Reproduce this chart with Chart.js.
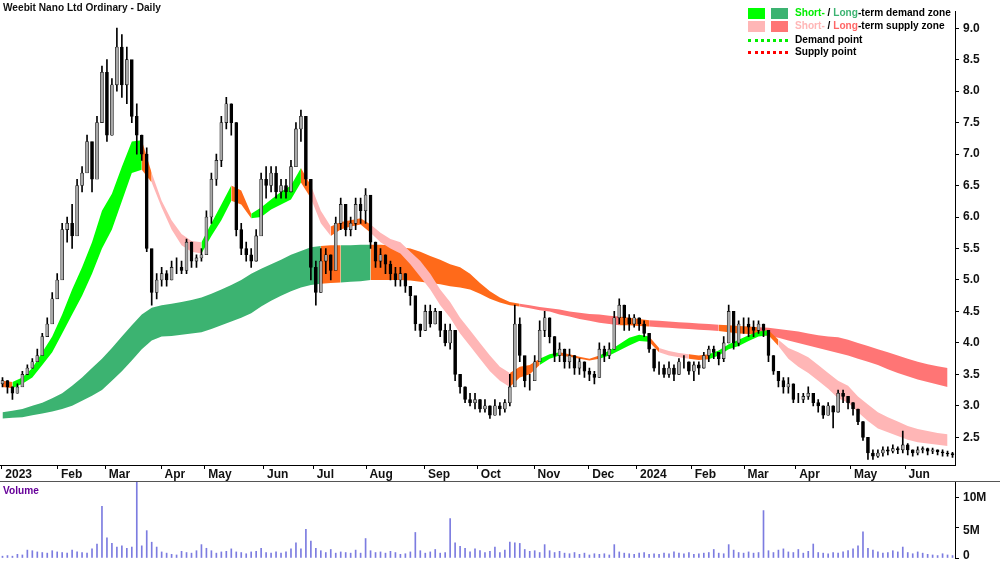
<!DOCTYPE html>
<html><head><meta charset="utf-8">
<script src="https://cdn.jsdelivr.net/npm/chart.js@4.4.1/dist/chart.umd.min.js"></script>
<style>
body{margin:0;width:1000px;height:562px;overflow:hidden;background:#fff;font-family:Arial,"Liberation Sans",sans-serif;}
#c1{position:absolute;left:0;top:0;}
#c2{position:absolute;left:0;top:482px;}
.t{position:absolute;font-weight:bold;font-size:11.5px;white-space:nowrap;transform:scaleX(0.88);transform-origin:0 0;}
.sq{position:absolute;width:17px;height:11px;}
.dl{position:absolute;width:40px;height:0;border-top:3px dotted;}
.vl{position:absolute;left:963px;font-weight:bold;font-size:12px;color:#111;line-height:12px;}
#sep{position:absolute;left:0;top:481px;width:1000px;height:1px;background:#555;}
</style></head><body>
<canvas id="c1" width="1000" height="482"></canvas>
<canvas id="c2" width="1000" height="80"></canvas>
<div id="sep"></div>
<div class="t" style="left:3px;top:1px;color:#111">Weebit Nano Ltd Ordinary - Daily</div>
<div class="t" style="left:3px;top:484px;color:#660099">Volume</div>
<div class="vl" style="top:491px">10M</div>
<div class="vl" style="top:524px">5M</div>
<div class="vl" style="top:549px">0</div>
<div class="sq" style="left:748px;top:8px;background:#00ff00"></div>
<div class="sq" style="left:771px;top:8px;background:#3cb371"></div>
<div class="t" style="left:795px;top:6px"><span style="color:#00ee00">Short-</span> / <span style="color:#3cb371">Long</span>-term demand zone</div>
<div class="sq" style="left:748px;top:21px;background:#ffb6b6"></div>
<div class="sq" style="left:771px;top:21px;background:#ff7575"></div>
<div class="t" style="left:795px;top:19px"><span style="color:#ffb6b6">Short-</span> / <span style="color:#ff6666">Long</span>-term supply zone</div>
<div class="dl" style="left:748px;top:39px;border-color:#00ee00"></div>
<div class="t" style="left:795px;top:33px">Demand point</div>
<div class="dl" style="left:748px;top:51px;border-color:#ff0000"></div>
<div class="t" style="left:795px;top:45px">Supply point</div>
<script>
const monthLabels=["2023","Feb","Mar","Apr","May","Jun","Jul","Aug","Sep","Oct","Nov","Dec","2024","Feb","Mar","Apr","May","Jun"];
const monthPos=[-0.1,11.1,20.7,31.9,40.7,52.5,62.5,73.1,84.9,95.5,106.9,117.9,127.5,138.5,149.1,159.5,170.5,181.5];
const priceTicks=[2.5,3.0,3.5,4.0,4.5,5.0,5.5,6.0,6.5,7.0,7.5,8.0,8.5,9.0];
const firstOpen=3.35;
const close=[3.4,3.3,3.2,3.3,3.5,3.6,3.7,3.8,4.1,4.3,4.7,5.0,5.8,5.9,5.7,6.5,6.7,7.2,6.6,7.5,
8.3,7.3,8.1,8.7,8.1,8.5,7.6,7.3,7.0,5.5,4.8,5.0,5.1,5.0,5.2,5.2,5.15,5.6,5.3,5.35,
5.4,6.0,6.6,6.9,7.5,7.8,7.5,5.8,5.5,5.4,5.3,5.7,6.6,6.5,6.7,6.4,6.5,6.4,6.8,7.4,
7.6,6.6,5.2,4.8,5.3,5.4,5.15,5.9,6.2,5.8,5.9,6.2,6.1,6.35,5.6,5.3,5.4,5.25,5.1,5.0,
5.1,4.9,4.75,4.3,4.2,4.5,4.3,4.5,4.2,4.0,4.2,3.5,3.3,3.1,3.05,3.1,2.95,3.0,2.85,3.0,
2.95,3.05,3.3,4.3,3.8,3.4,3.4,3.7,4.2,4.4,4.1,3.8,3.9,3.7,3.8,3.6,3.7,3.55,3.5,3.45,
3.9,3.8,3.9,4.4,4.6,4.4,4.3,4.4,4.3,4.15,3.9,3.6,3.6,3.5,3.6,3.5,3.7,3.7,3.55,3.65,
3.6,3.8,3.9,3.85,3.75,4.0,4.5,4.0,4.3,4.3,4.25,4.2,4.3,4.2,3.8,3.55,3.4,3.3,3.35,3.1,
3.1,3.15,3.2,3.05,3.0,2.85,3.0,2.9,3.2,3.15,3.05,2.95,2.75,2.5,2.25,2.2,2.25,2.3,2.28,2.32,
2.3,2.38,2.3,2.25,2.3,2.32,2.28,2.3,2.27,2.25,2.24,2.22];
const high=[3.45,3.4,3.3,3.35,3.55,3.65,3.75,3.9,4.15,4.4,4.8,5.1,5.9,6.0,6.2,6.6,6.8,7.3,7.0,7.6,
8.4,8.5,8.2,9.0,8.9,8.7,8.2,7.8,7.3,7.1,5.2,5.1,5.2,5.15,5.3,5.35,5.3,5.65,5.6,5.4,
5.5,6.1,6.7,7.0,7.6,7.9,7.8,7.5,5.9,5.6,5.5,5.8,6.7,6.8,6.8,6.8,6.6,6.6,6.9,7.5,
7.7,7.6,6.6,5.3,5.5,5.5,5.4,6.0,6.3,6.2,6.0,6.3,6.3,6.45,6.3,5.6,5.5,5.4,5.3,5.2,
5.2,5.1,4.9,4.7,4.3,4.6,4.6,4.55,4.5,4.3,4.3,4.2,3.5,3.3,3.2,3.2,3.1,3.1,3.0,3.1,
3.05,3.1,3.5,4.6,4.4,3.7,3.5,3.8,4.35,4.5,4.4,4.1,4.0,3.9,3.9,3.8,3.75,3.7,3.6,3.55,
4.0,3.95,4.0,4.5,4.7,4.6,4.45,4.45,4.4,4.35,4.15,3.9,3.7,3.65,3.7,3.65,3.75,3.8,3.7,3.7,
3.7,3.85,3.95,3.95,3.85,4.1,4.6,4.5,4.35,4.4,4.4,4.35,4.35,4.3,4.2,3.8,3.55,3.45,3.45,3.35,
3.2,3.2,3.3,3.2,3.1,3.0,3.05,3.0,3.25,3.25,3.15,3.05,2.95,2.75,2.5,2.3,2.3,2.35,2.35,2.38,
2.35,2.6,2.4,2.3,2.35,2.35,2.33,2.33,2.3,2.3,2.28,2.26];
const low=[3.3,3.2,3.1,3.2,3.4,3.5,3.6,3.7,3.95,4.2,4.5,4.8,5.3,5.6,5.5,6.1,6.4,6.8,6.4,6.9,
7.8,7.2,7.3,8.0,7.9,7.8,7.5,7.0,6.9,5.45,4.6,4.7,4.9,4.9,5.0,5.1,5.1,5.1,5.2,5.2,
5.3,5.4,5.9,6.5,6.8,7.4,7.3,5.7,5.4,5.3,5.2,5.3,5.9,6.3,6.4,6.3,6.3,6.3,6.4,6.8,
7.2,6.5,5.0,4.6,4.8,5.1,5.0,5.2,5.8,5.7,5.7,5.8,5.9,5.9,5.5,5.2,5.2,5.1,5.0,4.9,
4.9,4.8,4.6,4.2,4.1,4.2,4.25,4.3,4.1,3.95,3.9,3.4,3.2,3.05,3.0,2.95,2.9,2.9,2.8,2.85,
2.85,2.9,3.0,3.6,3.7,3.3,3.25,3.4,3.7,4.1,4.0,3.7,3.7,3.6,3.6,3.5,3.5,3.45,3.4,3.35,
3.45,3.7,3.75,3.9,4.3,4.2,4.2,4.25,4.2,4.1,3.85,3.55,3.5,3.45,3.45,3.4,3.5,3.6,3.5,3.4,
3.5,3.6,3.7,3.75,3.65,3.7,4.0,3.9,3.95,4.15,4.1,4.1,4.15,4.1,3.7,3.5,3.3,3.2,3.2,3.05,
3.05,3.05,3.1,3.0,2.9,2.8,2.85,2.65,2.9,3.05,2.95,2.85,2.7,2.45,2.15,2.15,2.18,2.2,2.22,2.25,
2.24,2.25,2.22,2.2,2.22,2.25,2.22,2.24,2.22,2.2,2.2,2.18];
const volume=[0.3,0.4,0.3,0.6,0.5,1.3,1.2,1.0,0.9,0.8,1.2,1.0,0.9,0.8,1.3,1.0,0.9,0.8,1.5,2.3,
8.5,3.3,2.4,1.8,2.0,1.6,1.8,12.5,2.0,4.5,2.6,1.8,1.0,0.8,0.6,0.5,1.1,0.9,0.8,1.2,
2.2,1.6,1.2,0.8,1.0,1.1,1.5,1.0,0.9,0.7,1.0,1.1,1.6,0.9,0.8,1.0,0.8,1.0,1.5,2.5,
1.5,4.7,2.8,1.6,1.2,0.9,1.4,0.8,1.0,0.9,0.8,1.3,0.8,3.2,1.2,0.9,1.0,0.8,1.1,0.9,
0.6,0.7,1.0,4.2,1.2,0.8,1.0,1.4,0.8,0.9,6.5,2.5,1.9,1.6,1.0,1.5,1.2,0.9,1.1,1.8,
0.9,1.3,2.6,2.5,2.4,1.4,1.1,1.2,0.9,2.2,1.2,0.9,1.1,0.8,0.7,0.9,0.6,0.8,0.5,0.7,
0.6,0.7,0.5,2.2,1.0,0.8,0.7,0.6,0.8,0.9,0.6,0.7,0.6,0.8,0.7,1.0,0.8,0.7,0.9,0.6,
0.7,0.8,0.9,1.4,0.8,0.7,2.2,1.3,0.9,0.8,1.0,0.8,0.9,7.8,1.2,0.9,1.3,1.5,1.0,0.9,
1.4,0.8,1.1,2.3,0.9,0.8,0.7,0.9,0.8,1.0,1.2,1.5,2.0,4.3,1.6,1.3,1.0,0.8,0.9,1.2,
1.0,1.8,0.9,0.7,1.0,0.8,0.6,0.5,0.4,0.7,0.5,0.4];
const shortUpper=[3.4,3.38,3.45,3.6,3.85,4.1,4.45,4.85,5.2,5.6,6.1,6.37,6.8,7.2,7.22,6.7,6.26,5.95,5.73,5.62,
5.6,5.9,6.2,6.5,6.42,6.05,6.15,6.28,6.4,6.5,6.78,6.5,6.1,5.85,5.92,5.95,5.98,5.88,5.75,5.65,
5.6,5.45,5.3,5.1,4.85,4.65,4.4,4.2,4.0,3.8,3.62,3.52,3.62,3.65,3.75,3.82,3.85,3.82,3.78,3.75,
3.8,3.88,3.98,4.08,4.13,4.1,3.92,3.87,3.84,3.82,3.8,3.82,3.88,3.98,4.05,4.12,4.18,4.2,4.05,3.92,
3.85,3.77,3.65,3.52,3.4,3.32,3.15,3.02,2.9,2.82,2.75,2.68,2.63,2.6,2.57,2.55];
const shortLower=[3.3,3.28,3.35,3.45,3.65,3.85,4.15,4.45,4.75,5.1,5.5,5.8,6.25,6.7,6.75,6.55,6.15,5.8,5.55,5.45,
5.42,5.7,5.95,6.26,6.2,5.98,6.0,6.12,6.2,6.28,6.55,6.3,5.9,5.7,5.8,5.85,5.88,5.75,5.6,5.5,
5.42,5.25,5.05,4.85,4.6,4.4,4.15,3.95,3.75,3.55,3.4,3.3,3.45,3.5,3.65,3.75,3.8,3.78,3.75,3.72,
3.75,3.8,3.88,3.96,4.03,4.02,3.85,3.8,3.77,3.75,3.73,3.74,3.8,3.9,3.95,4.03,4.1,4.12,3.95,3.75,
3.62,3.52,3.4,3.27,3.12,3.05,2.9,2.76,2.64,2.58,2.52,2.46,2.42,2.4,2.38,2.36];
const longUpper=[2.9,2.92,2.95,3.0,3.05,3.12,3.2,3.32,3.45,3.6,3.75,3.92,4.1,4.28,4.45,4.56,4.6,4.62,4.65,4.68,
4.72,4.78,4.85,4.92,5.0,5.1,5.18,5.25,5.32,5.4,5.46,5.52,5.54,5.55,5.55,5.55,5.56,5.56,5.56,5.55,
5.52,5.5,5.45,5.38,5.32,5.25,5.2,5.1,4.95,4.82,4.72,4.65,4.62,4.6,4.57,4.55,4.53,4.5,4.48,4.46,
4.45,4.43,4.42,4.4,4.38,4.36,4.35,4.34,4.33,4.32,4.31,4.3,4.29,4.28,4.27,4.26,4.25,4.24,4.22,4.2,
4.18,4.15,4.12,4.1,4.09,4.05,4.0,3.95,3.9,3.85,3.8,3.75,3.7,3.66,3.63,3.6];
const longLower=[2.8,2.81,2.82,2.85,2.88,2.91,2.95,3.0,3.08,3.16,3.25,3.4,3.55,3.72,3.9,4.04,4.1,4.11,4.13,4.15,
4.17,4.22,4.28,4.34,4.4,4.47,4.58,4.67,4.75,4.82,4.88,4.92,4.94,4.95,4.96,4.97,4.98,5.0,5.0,5.0,
5.0,4.99,4.97,4.95,4.93,4.9,4.88,4.85,4.78,4.7,4.64,4.6,4.58,4.55,4.52,4.5,4.45,4.42,4.38,4.35,
4.32,4.3,4.28,4.28,4.27,4.26,4.25,4.24,4.23,4.22,4.21,4.2,4.19,4.17,4.15,4.14,4.13,4.11,4.08,4.04,
4.0,3.96,3.92,3.88,3.84,3.8,3.75,3.7,3.65,3.58,3.52,3.47,3.42,3.38,3.34,3.3];
const shortState="OGGGGGGGGGGGGGOPPPPPGGGOOGGGGGOPPOOOOPPPPPPPPPPPPPPOOOGGOOOOGGGGGOPPPOOGGGGGGOPPPPPPPPPPPPPPPPP";
const longState="DDDDDDDDDDDDDDDDDDDDDDDDDDDDDDDDOODDDOOOOOOOOOOOOOOORRRRRRRRRROOORRRRRRROOOORRRRRRRRRRRRRRRRRRR";
const colors={G:'#00ff00',P:'#ffb6b6',O:'#ff6a1a',D:'#3cb371',R:'#ff7575'};

const N=close.length;
const open=close.map((c,i)=>i===0?firstOpen:close[i-1]);
const zpts=a=>a.map((v,j)=>({x:2*j,y:v}));
const segFill=st=>({backgroundColor:c=>colors[st[c.p0DataIndex]]||colors.P});
const FONT={family:'Arial, "Liberation Sans", sans-serif',size:12,weight:'bold'};
Chart.defaults.animation=false;
Chart.defaults.font.family=FONT.family;

const zoneDs=(up,lo,st,ord)=>[
 {type:'line',data:zpts(up),borderWidth:0,pointRadius:0,fill:false,order:ord,borderColor:'rgba(0,0,0,0)'},
 {type:'line',data:zpts(lo),borderWidth:0,pointRadius:0,fill:'-1',order:ord,borderColor:'rgba(0,0,0,0)',backgroundColor:colors.P,segment:segFill(st)}
];
new Chart(document.getElementById('c1'),{
 type:'bar',
 data:{datasets:[
  ...zoneDs(longUpper,longLower,longState,30),
  ...zoneDs(shortUpper,shortLower,shortState,20),
  {type:'bar',data:close.map((c,i)=>({x:i,y:[low[i],high[i]]})),backgroundColor:'#000',barThickness:1,grouped:false,order:2},
  {type:'bar',data:close.map((c,i)=>({x:i,y:[open[i],c]})),backgroundColor:close.map((c,i)=>c>=open[i]?'#a8a8a8':'#000'),borderColor:'#000',borderWidth:0.6,borderSkipped:false,barThickness:3,grouped:false,order:1}
 ]},
 options:{responsive:false,maintainAspectRatio:false,layout:{padding:0},
  plugins:{legend:{display:false},tooltip:{enabled:false}},
  scales:{
   x:{type:'linear',offset:false,min:-0.5,max:N-0.5,
    afterBuildTicks:s=>{s.ticks=monthPos.map(v=>({value:v}));},
    afterFit:s=>{s.height=17;},
    grid:{drawOnChartArea:false,offset:false,tickLength:4,color:'#000'},border:{color:'#000'},
    ticks:{autoSkip:false,maxRotation:0,align:'start',padding:-2,color:'#111',font:FONT,
     callback:(v,i)=>' '+monthLabels[i]}},
   y:{position:'right',min:2.06,max:9.27,
    afterBuildTicks:s=>{s.ticks=priceTicks.map(v=>({value:v}));},
    afterFit:s=>{s.width=45;},
    grid:{drawOnChartArea:false,tickLength:4,color:'#000'},border:{color:'#000'},
    ticks:{padding:4,color:'#111',font:FONT,callback:v=>v.toFixed(1)}}
  }}
});
new Chart(document.getElementById('c2'),{
 type:'bar',
 data:{datasets:[{data:volume.map((v,i)=>({x:i,y:v})),backgroundColor:'#7c7ce0',barThickness:1}]},
 options:{responsive:false,maintainAspectRatio:false,layout:{padding:{top:0,bottom:4}},
  plugins:{legend:{display:false},tooltip:{enabled:false}},
  scales:{
   x:{type:'linear',offset:false,min:-0.5,max:N-0.5,display:false},
   y:{position:'right',min:0,max:12.5,
    afterBuildTicks:s=>{s.ticks=[0,5,10].map(v=>({value:v}));},
    afterFit:s=>{s.width=45;},
    grid:{drawOnChartArea:false,tickLength:4,color:'#000'},border:{color:'#000'},
    ticks:{display:false}}
  }}
});
</script></body></html>
